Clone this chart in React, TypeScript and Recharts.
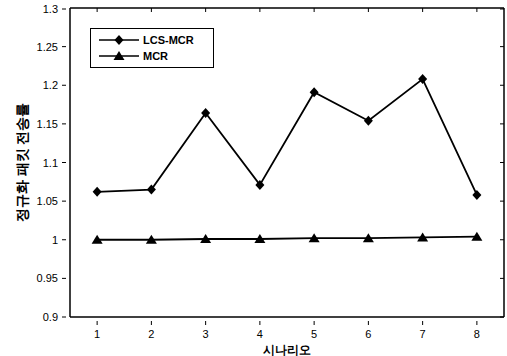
import React from "react";
import {
  LineChart,
  Line,
  XAxis,
  YAxis,
  ReferenceLine,
} from "recharts";

const scenarios = [1, 2, 3, 4, 5, 6, 7, 8];
const lcsMcr = [1.062, 1.065, 1.164, 1.071, 1.191, 1.154, 1.208, 1.058];
const mcr = [1.0, 1.0, 1.001, 1.001, 1.002, 1.002, 1.003, 1.004];
const yTicks = [0.9, 0.95, 1, 1.05, 1.1, 1.15, 1.2, 1.25, 1.3];

const data = scenarios.map((s, i) => ({ s, lcsMcr: lcsMcr[i], mcr: mcr[i] }));

const font = "'Liberation Sans', Arial, sans-serif";

const Diamond = (props: any) => {
  const { cx, cy } = props;
  if (cx == null || cy == null) return null;
  return <path d={`M${cx},${cy - 5} L${cx + 4.5},${cy} L${cx},${cy + 5} L${cx - 4.5},${cy} Z`} fill="#000" />;
};

const Triangle = (props: any) => {
  const { cx, cy } = props;
  if (cx == null || cy == null) return null;
  return <path d={`M${cx},${cy - 5} L${cx + 5.5},${cy + 4} L${cx - 5.5},${cy + 4} Z`} fill="#000" />;
};

const YTick = (props: any) => {
  const { x, y, payload } = props;
  return (
    <g>
      <line x1={x} y1={y} x2={x + 4} y2={y} stroke="#000" strokeWidth={1} />
      <line x1={504} y1={y} x2={500} y2={y} stroke="#000" strokeWidth={1} />
      <text x={x - 4} y={y + 4} textAnchor="end" fontSize={11} fontFamily={font} fill="#000">
        {payload.value}
      </text>
    </g>
  );
};

const XTick = (props: any) => {
  const { x, y, payload } = props;
  return (
    <g>
      <line x1={x} y1={y} x2={x} y2={y - 4} stroke="#000" strokeWidth={1} />
      <line x1={x} y1={8} x2={x} y2={12} stroke="#000" strokeWidth={1} />
      <text x={x} y={y + 13} textAnchor="middle" fontSize={11} fontFamily={font} fill="#000">
        {payload.value}
      </text>
    </g>
  );
};

const LegendBox = () => (
  <div
    style={{
      position: "absolute",
      left: 90,
      top: 28,
      border: "1.5px solid #000",
      background: "#fff",
      width: 124,
      height: 40,
      boxSizing: "border-box",
    }}
  >
    <svg width={121} height={37} style={{ display: "block" }}>
      <line x1={8} y1={11} x2={48} y2={11} stroke="#000" strokeWidth={1.5} />
      <path d="M28,6 L32.5,11 L28,16 L23.5,11 Z" fill="#000" />
      <text x={52} y={15} fontSize={11} fontFamily={font} fontWeight="bold" fill="#000">LCS-MCR</text>
      <line x1={8} y1={27} x2={48} y2={27} stroke="#000" strokeWidth={1.5} />
      <path d="M28,22 L33.5,31 L22.5,31 Z" fill="#000" />
      <text x={52} y={31} fontSize={11} fontFamily={font} fontWeight="bold" fill="#000">MCR</text>
    </svg>
  </div>
);

export default function App() {
  return (
    <div style={{ position: "absolute", left: 0, top: 0, width: 507, height: 356, background: "#fff" }}>
      <LineChart width={507} height={356} data={data} margin={{ top: 8, right: 3, left: 0, bottom: 0 }}>
        <XAxis
          dataKey="s"
          type="number"
          domain={[0.5, 8.5]}
          ticks={scenarios}
          height={39}
          axisLine={{ stroke: "#000", strokeWidth: 1.5 }}
          tickLine={false}
          tick={<XTick />}
          label={{ value: "시나리오", position: "insideBottom", offset: 2, fontSize: 12, fontFamily: font, fill: "#000", fontWeight: "bold" }}
        />
        <YAxis
          domain={[0.9, 1.3]}
          ticks={yTicks}
          width={70}
          axisLine={{ stroke: "#000", strokeWidth: 1.5 }}
          tickLine={false}
          tick={<YTick />}
          label={{ value: "정규화 패킷 전송률", angle: -90, position: "insideLeft", offset: 22, textAnchor: "middle", fontSize: 13.5, fontFamily: font, fill: "#000", fontWeight: "bold" }}
        />
        <ReferenceLine y={1.3} stroke="#000" strokeWidth={1.5} />
        <ReferenceLine x={8.5} stroke="#000" strokeWidth={1.5} />
        <Line
          dataKey="lcsMcr"
          name="LCS-MCR"
          stroke="#000"
          strokeWidth={1.8}
          dot={<Diamond />}
          isAnimationActive={false}
        />
        <Line
          dataKey="mcr"
          name="MCR"
          stroke="#000"
          strokeWidth={1.8}
          dot={<Triangle />}
          isAnimationActive={false}
        />
      </LineChart>
      <LegendBox />
    </div>
  );
}
